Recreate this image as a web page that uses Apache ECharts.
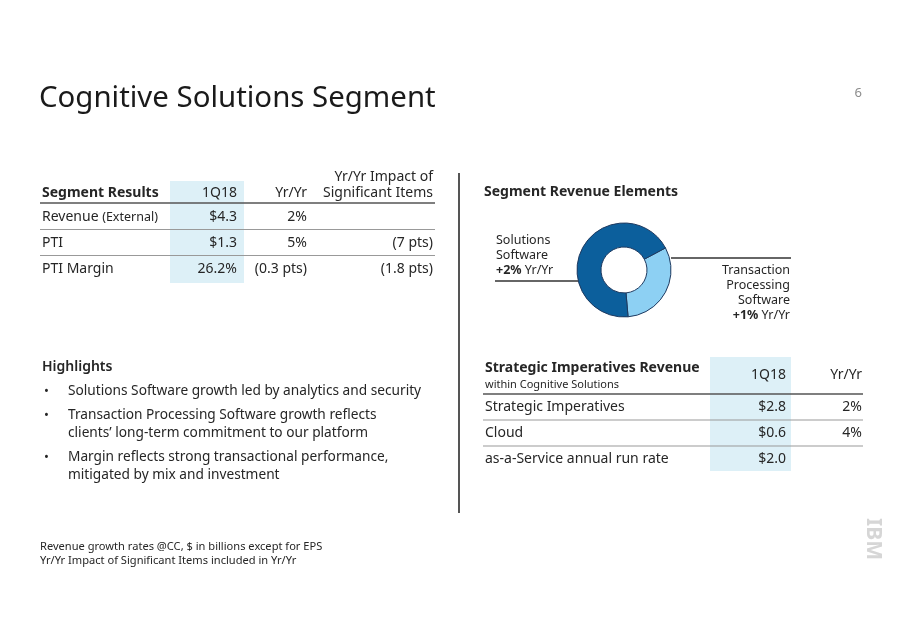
<!DOCTYPE html>
<html><head><meta charset="utf-8">
<script src="https://cdn.jsdelivr.net/npm/echarts@6/dist/echarts.min.js"></script>
<style>html,body{margin:0;padding:0;background:#fff}#c{width:902px;height:635px}</style>
</head><body><div id="c"></div>
<script>
// ---- data ----
var titleText = 'Cognitive Solutions Segment';
var pageNumber = '6';
var segHeader = ['Segment Results', '1Q18', 'Yr/Yr', 'Yr/Yr Impact of', 'Significant Items'];
var segLabels = ['Revenue', 'PTI', 'PTI Margin'];
var segLabelNotes = ['(External)', '', ''];
var seg1Q18 = ['$4.3', '$1.3', '26.2%'];
var segYrYr = ['2%', '5%', '(0.3 pts)'];
var segImpact = ['', '(7 pts)', '(1.8 pts)'];

var donutNames = ['Transaction Processing Software', 'Solutions Software'];
var donutShares = [31.4, 68.6];
var donutGrowth = ['+1%', '+2%'];

var siTitle = 'Strategic Imperatives Revenue';
var siSubtitle = 'within Cognitive Solutions';
var siHeader = ['1Q18', 'Yr/Yr'];
var siLabels = ['Strategic Imperatives', 'Cloud', 'as-a-Service annual run rate'];
var si1Q18 = ['$2.8', '$0.6', '$2.0'];
var siYrYr = ['2%', '4%', ''];

var highlightsTitle = 'Highlights';
var highlights = [
  ['Solutions Software growth led by analytics and security'],
  ['Transaction Processing Software growth reflects', 'clients\u2019 long-term commitment to our platform'],
  ['Margin reflects strong transactional performance,', 'mitigated by mix and investment']
];
var footnotes = ['Revenue growth rates @CC, $ in billions except for EPS', 'Yr/Yr Impact of Significant Items included in Yr/Yr'];

// ---- layout ----
var FF = '"Noto Sans", "Open Sans", sans-serif';
var TXT = '#262626';
var g = [];
function txt(x, y, s, size, opt) {
  opt = opt || {};
  g.push({type: 'text', x: x, y: y, silent: true, style: {
    text: s, font: (opt.weight || 'normal') + ' ' + size + 'px ' + FF,
    fill: opt.fill || TXT, align: opt.align || 'left', verticalAlign: 'middle', rich: opt.rich
  }});
}
function line(x1, y1, x2, y2, color, w) {
  g.push({type: 'line', silent: true, shape: {x1: x1, y1: y1, x2: x2, y2: y2}, style: {stroke: color, lineWidth: w}});
}
function rect(x, y, w, h, color) {
  g.push({type: 'rect', silent: true, shape: {x: x, y: y, width: w, height: h}, style: {fill: color}});
}

var HL = '#ddf0f7';
// title
txt(39, 99, titleText, 29.4, {fill: '#1a1a1a'});
txt(862, 93, pageNumber, 13, {fill: '#8c8c8c', align: 'right'});

// left table
rect(170, 181, 74, 102, HL);
txt(42, 193, segHeader[0], 14, {weight: 'bold'});
txt(237, 193, segHeader[1], 14, {align: 'right'});
txt(307, 193, segHeader[2], 14, {align: 'right'});
txt(433, 177, segHeader[3], 14, {align: 'right'});
txt(433, 193, segHeader[4], 14, {align: 'right'});
line(40, 203, 435, 203, '#555', 1.5);
var rowY = [217, 243, 269];
for (var i = 0; i < segLabels.length; i++) {
  var y = rowY[i];
  if (segLabelNotes[i]) {
    txt(42, y, '{a|' + segLabels[i] + '} {b|' + segLabelNotes[i] + '}', 14, {rich: {
      a: {font: '14px ' + FF, fill: TXT}, b: {font: '12.5px ' + FF, fill: TXT}}});
  } else {
    txt(42, y, segLabels[i], 14);
  }
  txt(237, y, seg1Q18[i], 14, {align: 'right'});
  txt(307, y, segYrYr[i], 14, {align: 'right'});
  if (segImpact[i]) txt(433, y, segImpact[i], 14, {align: 'right'});
  if (i < segLabels.length - 1) line(40, y + 12.5, 435, y + 12.5, '#999', 1);
}

// divider
line(459, 173, 459, 513, '#555', 2);

// donut labels
txt(484, 192, 'Segment Revenue Elements', 14, {weight: 'bold'});
line(495, 281, 578, 281, '#333', 1.5);
line(671, 258, 791, 258, '#333', 1.5);
txt(496, 240, 'Solutions', 12.5);
txt(496, 255, 'Software', 12.5);
txt(496, 270, '{b|' + donutGrowth[1] + '} {a|Yr/Yr}', 12.5, {rich: {
  a: {font: '12.5px ' + FF, fill: TXT}, b: {font: 'bold 12.5px ' + FF, fill: TXT}}});
txt(790, 270, 'Transaction', 12.5, {align: 'right'});
txt(790, 285, 'Processing', 12.5, {align: 'right'});
txt(790, 300, 'Software', 12.5, {align: 'right'});
txt(790, 315, '{b|' + donutGrowth[0] + '} {a|Yr/Yr}', 12.5, {align: 'right', rich: {
  a: {font: '12.5px ' + FF, fill: TXT}, b: {font: 'bold 12.5px ' + FF, fill: TXT}}});

// right table
rect(710, 357, 81, 114, HL);
txt(485, 368, siTitle, 14, {weight: 'bold'});
txt(485, 385, siSubtitle, 11);
txt(786, 375, siHeader[0], 14, {align: 'right'});
txt(862, 375, siHeader[1], 14, {align: 'right'});
line(483, 394, 863, 394, '#555', 1.5);
var siY = [407, 433, 459];
for (var j = 0; j < siLabels.length; j++) {
  txt(485, siY[j], siLabels[j], 14);
  txt(786, siY[j], si1Q18[j], 14, {align: 'right'});
  if (siYrYr[j]) txt(862, siY[j], siYrYr[j], 14, {align: 'right'});
  if (j < siLabels.length - 1) line(483, siY[j] + 13, 863, siY[j] + 13, '#999', 1);
}

// highlights
txt(42, 367, highlightsTitle, 14, {weight: '600'});
var hy = 391;
for (var k = 0; k < highlights.length; k++) {
  txt(44, hy, '\u2022', 13);
  for (var m = 0; m < highlights[k].length; m++) {
    txt(68, hy, highlights[k][m], 13.7);
    hy += 18;
  }
  hy += 6;
}

// footnotes
txt(40, 547, footnotes[0], 11.1);
txt(40, 561, footnotes[1], 11.1);

// logo
g.push({type: 'text', x: 873, y: 539, rotation: -Math.PI / 2, silent: true, style: {
  text: 'IBM', font: 'bold 21px ' + FF, fill: '#d6d6d6', align: 'center', verticalAlign: 'middle'}});

var chart = echarts.init(document.getElementById('c'), null, {renderer: 'canvas'});
chart.setOption({
  animation: false,
  backgroundColor: '#fff',
  graphic: g,
  series: [{
    type: 'pie',
    center: [624, 270],
    radius: [23, 47],
    startAngle: 28,
    clockwise: true,
    silent: true,
    label: {show: false},
    labelLine: {show: false},
    itemStyle: {borderColor: '#1f3a60', borderWidth: 1},
    data: donutNames.map(function (n, i) {
      return {name: n, value: donutShares[i], itemStyle: {color: i === 0 ? '#8dd0f3' : '#0c5f9c'}};
    })
  }]
});
</script></body></html>
